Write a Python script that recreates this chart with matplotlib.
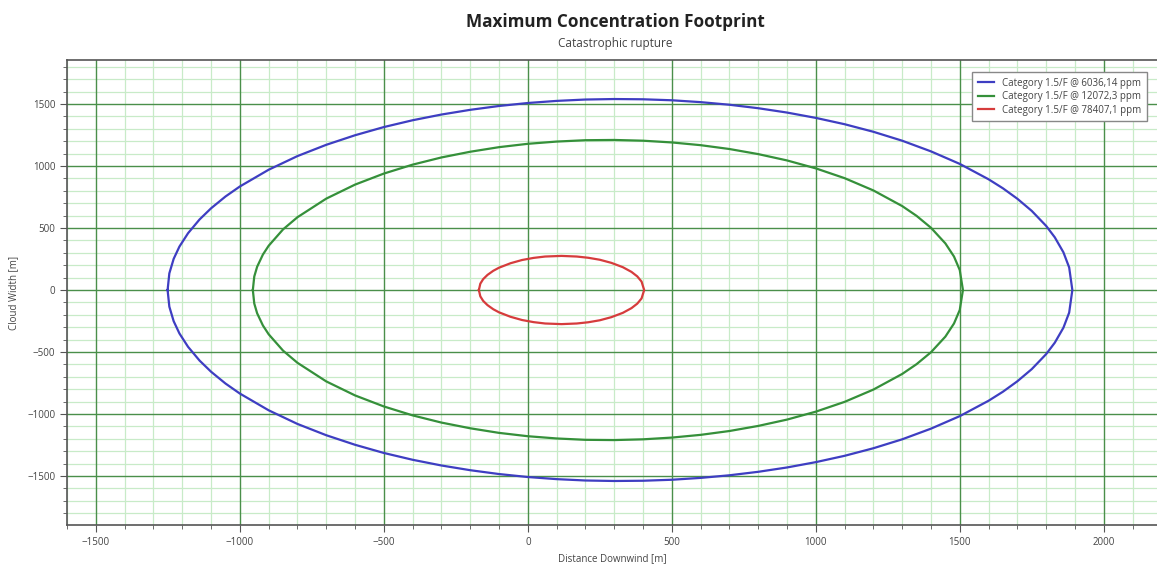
import matplotlib
matplotlib.use('Agg')
import matplotlib.pyplot as plt
from matplotlib.ticker import MultipleLocator

plt.rcParams['font.family'] = ['Open Sans', 'DejaVu Sans']

# upper half of each footprint (lower half mirrors it)
blue_x = [-1251, -1245, -1230, -1210, -1180, -1140, -1100, -1050, -1000, -900, -800, -700, -600, -500,
          -400, -300, -200, -100, 0, 100, 200, 300, 400, 500, 600, 700, 800, 900, 1000, 1100, 1200,
          1300, 1400, 1500, 1600, 1650, 1700, 1750, 1800, 1830, 1860, 1880, 1891]
blue_y = [0, 134, 251, 350, 458, 569, 659, 754, 835, 970, 1080, 1171, 1248, 1314,
          1369, 1415, 1453, 1484, 1508, 1525, 1536, 1540, 1538, 1530, 1515, 1494, 1466, 1431, 1388, 1337, 1276,
          1204, 1118, 1017, 893, 820, 736, 638, 517, 425, 304, 182, 0]

green_x = [-955, -950, -940, -920, -900, -850, -800, -700, -600, -500, -400, -300, -200, -100, 0, 100,
           200, 300, 400, 500, 600, 700, 800, 900, 1000, 1100, 1200, 1300, 1350, 1400, 1450, 1480, 1500, 1511]
green_y = [0, 109, 188, 286, 357, 489, 587, 737, 850, 939, 1011, 1069, 1115, 1152, 1179, 1197,
           1208, 1210, 1204, 1190, 1168, 1137, 1096, 1045, 981, 902, 803, 677, 598, 502, 376, 270, 161, 0]

red_x = [-170, -165, -155, -140, -120, -100, -60, -20, 20, 60, 117, 170, 210, 250, 290, 330, 360, 380, 395, 404]
red_y = [0, 51, 88, 122, 155, 180, 216, 242, 259, 270, 275, 270, 260, 244, 219, 184, 146, 110, 68, 0]

labels = ['Category 1.5/F @ 6036,14 ppm', 'Category 1.5/F @ 12072,3 ppm', 'Category 1.5/F @ 78407,1 ppm']
colors = ['#3e3ec2', '#35903a', '#d63c3c']

fig = plt.figure(figsize=(11.57, 5.69), dpi=100)
ax = fig.add_axes([0.058, 0.0773, 0.942, 0.8173])

for xs, ys, lab, c in zip([blue_x, green_x, red_x], [blue_y, green_y, red_y], labels, colors):
    px = xs + xs[::-1]
    py = ys + [-v for v in ys[::-1]]
    ax.plot(px, py, color=c, lw=1.6, label=lab, zorder=3)

ax.set_xlim(-1600, 2185)
ax.set_ylim(-1895, 1855)
ax.xaxis.set_major_locator(MultipleLocator(500))
ax.xaxis.set_minor_locator(MultipleLocator(100))
ax.yaxis.set_major_locator(MultipleLocator(500))
ax.yaxis.set_minor_locator(MultipleLocator(100))
ax.grid(which='minor', color='#c8ebc8', lw=0.9)
ax.set_axisbelow(True)
# major grid drawn on top of the minor one
for xv in ax.get_xticks():
    ax.axvline(xv, color='#4a8f4a', lw=1.0, zorder=1)
for yv in ax.get_yticks():
    ax.axhline(yv, color='#4a8f4a', lw=1.0, zorder=1)
ax.set_xlim(-1600, 2185)
ax.set_ylim(-1895, 1855)

for s in ['left', 'bottom', 'top']:
    ax.spines[s].set_color('#555555')
    ax.spines[s].set_linewidth(1.2)
ax.spines['right'].set_visible(False)
ax.tick_params(which='major', length=5, color='#555555', labelsize=7, labelcolor='#444444')
ax.tick_params(which='minor', length=3, color='#555555')

ax.set_xlabel('Distance Downwind [m]', fontsize=7, color='#444444', labelpad=4)
ax.set_ylabel('Cloud Width [m]', fontsize=7, color='#444444', labelpad=6)

fig.text(0.532, 0.962, 'Maximum Concentration Footprint', ha='center', va='center',
         fontsize=12.3, fontweight='bold', color='#222222')
fig.text(0.532, 0.924, 'Catastrophic rupture', ha='center', va='center',
         fontsize=8.5, color='#444444')

leg = ax.legend(loc='upper right', bbox_to_anchor=(0.995, 0.985), fontsize=7, frameon=True,
                fancybox=False, framealpha=1, edgecolor='#888888', handlelength=1.6,
                labelspacing=0.25, borderpad=0.6)
for t in leg.get_texts():
    t.set_color('#444444')

fig.savefig('out.png', dpi=100)
